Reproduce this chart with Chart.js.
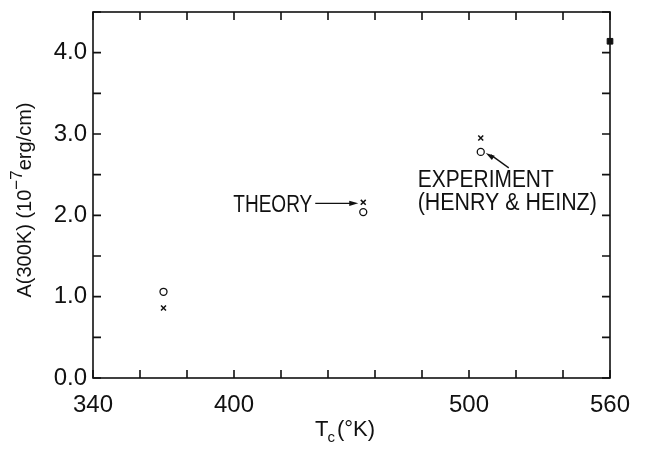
<!DOCTYPE html>
<html>
<head>
<meta charset="utf-8">
<script src="https://cdn.jsdelivr.net/npm/chart.js@4"></script>
<style>
  html, body { margin: 0; padding: 0; background: #fff; }
  canvas { display: block; }
</style>
</head>
<body>
<canvas id="chart" width="651" height="450"></canvas>
<script>
// T_c (K) and A(300K) values
const tcValues = [370, 455, 505];
const theoryA = [0.86, 2.16, 2.95];
const experimentA = [1.06, 2.04, 2.78];
const extraPoint = [{ x: 560, y: 4.14 }];

const xLabelTicks = [340, 400, 500, 560];
const yLabelTicks = [0, 1, 2, 3, 4];

const FONT = '"Liberation Sans", "DejaVu Sans", sans-serif';
const INK = '#111';

const toPoints = (xs, ys) => xs.map((x, i) => ({ x, y: ys[i] }));

// text squeezed to a given width, like the narrow hand lettering
function narrowText(ctx, str, x, y, width, align) {
  const w = ctx.measureText(str).width;
  const k = Math.min(1, width / w);
  ctx.save();
  ctx.translate(x, y);
  ctx.scale(k, 1);
  ctx.textAlign = align || 'left';
  ctx.fillText(str, 0, 0);
  ctx.restore();
}

function arrowHead(ctx, x, y, ang) {
  ctx.beginPath();
  ctx.moveTo(x, y);
  ctx.lineTo(x - 9 * Math.cos(ang) + 2.6 * Math.sin(ang), y - 9 * Math.sin(ang) - 2.6 * Math.cos(ang));
  ctx.lineTo(x - 9 * Math.cos(ang) - 2.6 * Math.sin(ang), y - 9 * Math.sin(ang) + 2.6 * Math.cos(ang));
  ctx.closePath();
  ctx.fill();
}

// frame, inward ticks, axis titles and annotations
const decor = {
  id: 'decor',
  afterDraw(chart) {
    const { ctx, chartArea: a, scales } = chart;
    const xs = scales.x, ys = scales.y;
    ctx.save();
    ctx.strokeStyle = INK;
    ctx.fillStyle = INK;
    ctx.lineWidth = 1.6;
    ctx.strokeRect(a.left, a.top, a.right - a.left, a.bottom - a.top);

    const len = 8;
    ctx.beginPath();
    xs.ticks.forEach(t => {
      const px = xs.getPixelForValue(t.value);
      ctx.moveTo(px, a.bottom); ctx.lineTo(px, a.bottom - len);
      ctx.moveTo(px, a.top); ctx.lineTo(px, a.top + len);
    });
    ys.ticks.forEach(t => {
      const py = ys.getPixelForValue(t.value);
      ctx.moveTo(a.left, py); ctx.lineTo(a.left + len, py);
      ctx.moveTo(a.right, py); ctx.lineTo(a.right - len, py);
    });
    ctx.stroke();

    ctx.textBaseline = 'middle';
    ctx.font = '23px ' + FONT;
    ctx.lineWidth = 1.3;

    // THEORY ->
    const tx = xs.getPixelForValue(tcValues[1]);
    const ty = ys.getPixelForValue(theoryA[1]);
    narrowText(ctx, 'THEORY', tx - 130, ty + 3, 79);
    ctx.beginPath();
    ctx.moveTo(tx - 48, ty + 1); ctx.lineTo(tx - 10, ty + 1);
    ctx.stroke();
    arrowHead(ctx, tx - 5, ty + 1, 0);

    // EXPERIMENT (HENRY & HEINZ)
    const ex = xs.getPixelForValue(tcValues[2]);
    const ey = ys.getPixelForValue(experimentA[2]);
    narrowText(ctx, 'EXPERIMENT', ex - 63, ey + 29, 136);
    narrowText(ctx, '(HENRY & HEINZ)', ex - 63, ey + 52, 179);
    ctx.beginPath();
    ctx.moveTo(ex + 28, ey + 16); ctx.lineTo(ex + 10, ey + 3);
    ctx.stroke();
    arrowHead(ctx, ex + 5, ey + 1, Math.atan2(-15, -23));

    // x axis title with subscript
    ctx.textBaseline = 'alphabetic';
    ctx.textAlign = 'left';
    ctx.font = '22px ' + FONT;
    let x0 = 315;
    const y0 = 436;
    ctx.fillText('T', x0, y0);
    x0 += ctx.measureText('T').width - 1;
    ctx.font = '15px ' + FONT;
    ctx.fillText('c', x0, y0 + 6);
    x0 += ctx.measureText('c').width + 2;
    ctx.font = '22px ' + FONT;
    ctx.fillText('(°K)', x0, y0);

    // y axis title, rotated, with raised exponent
    const parts = [
      { s: 'A(300K) (10', f: '20px ', dy: 0 },
      { s: '−7', f: '17px ', dy: -9 },
      { s: 'erg/cm)', f: '20px ', dy: 0 },
    ];
    let total = 0;
    parts.forEach(p => { ctx.font = p.f + FONT; p.w = ctx.measureText(p.s).width; total += p.w; });
    ctx.translate(31, 200);
    ctx.rotate(-Math.PI / 2);
    let px = -total / 2;
    parts.forEach(p => {
      ctx.font = p.f + FONT;
      ctx.fillText(p.s, px, p.dy);
      px += p.w;
    });
    ctx.restore();
  }
};

new Chart(document.getElementById('chart'), {
  type: 'scatter',
  data: {
    datasets: [
      {
        label: 'Theory',
        data: toPoints(tcValues, theoryA),
        pointStyle: 'crossRot',
        pointRadius: 3.5,
        borderColor: INK,
        borderWidth: 1.5,
      },
      {
        label: 'Experiment',
        data: toPoints(tcValues, experimentA),
        pointStyle: 'circle',
        pointRadius: 3.5,
        borderColor: INK,
        backgroundColor: 'rgba(0,0,0,0)',
        borderWidth: 1.3,
      },
      {
        label: 'Other',
        data: extraPoint,
        pointStyle: 'rect',
        pointRadius: 4,
        borderColor: INK,
        backgroundColor: INK,
        borderWidth: 1,
        clip: false,
      },
    ],
  },
  options: {
    responsive: false,
    animation: false,
    layout: { padding: { top: 12, right: 41, left: 0, bottom: 0 } },
    plugins: { legend: { display: false }, tooltip: { enabled: false } },
    scales: {
      x: {
        type: 'linear',
        min: 340,
        max: 560,
        afterFit: s => { s.height = 72; s.paddingLeft = 0; s.paddingRight = 0; },
        border: { display: false },
        grid: { display: false, drawTicks: false },
        ticks: {
          stepSize: 20,
          padding: 13,
          color: INK,
          font: { family: FONT, size: 24 },
          maxRotation: 0,
          autoSkip: false,
          callback: v => xLabelTicks.includes(v) ? String(v) : '',
        },
      },
      y: {
        min: 0,
        max: 4.5,
        afterFit: s => { s.width = 93; s.paddingTop = 0; s.paddingBottom = 0; },
        border: { display: false },
        grid: { display: false, drawTicks: false },
        ticks: {
          stepSize: 0.5,
          padding: 6,
          color: INK,
          font: { family: FONT, size: 24 },
          autoSkip: false,
          callback: v => yLabelTicks.includes(v) ? v.toFixed(1) : '',
        },
      },
    },
  },
  plugins: [decor],
});
</script>
</body>
</html>
